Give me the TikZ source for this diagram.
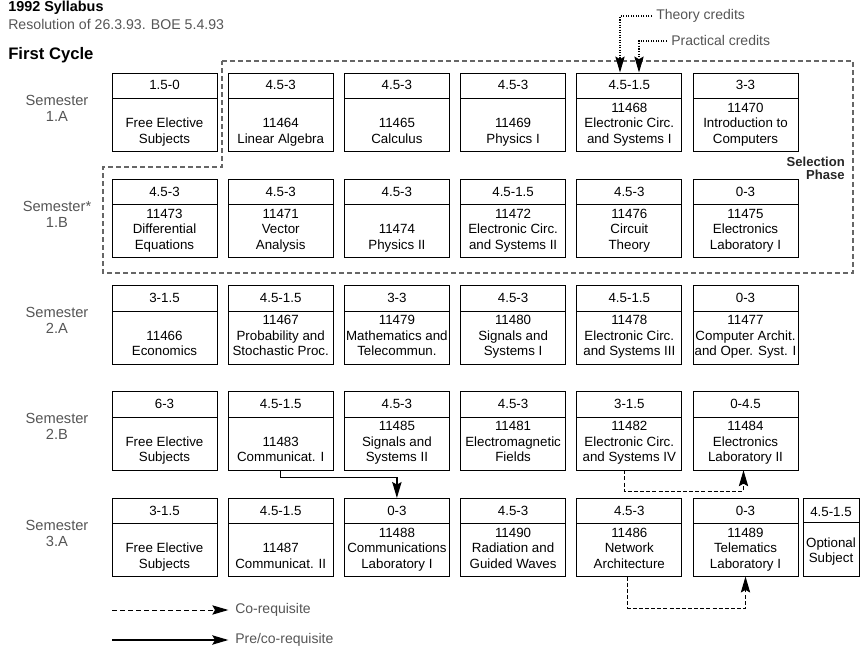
\documentclass[tikz,border=0pt]{standalone}
\usepackage{fontspec}
\setmainfont{Liberation Sans}
\usetikzlibrary{arrows.meta,calc}
\definecolor{txtgray}{HTML}{555555}
\definecolor{linegray}{HTML}{666666}
\tikzset{
  tip/.style={-{Stealth[length=12pt,width=7pt,inset=2pt]}},
  cbox/.style={draw, line width=0.7pt, minimum width=78.75pt, minimum height=58.9pt, inner sep=0pt, outer sep=0pt},
  ctext/.style={font=\fontsize{10}{11}\selectfont, inner sep=0pt},
  divider/.style={line width=0.7pt},
  semlabel/.style={font=\fontsize{11}{12}\selectfont, text=txtgray, align=center, inner sep=0pt},
  legtext/.style={font=\fontsize{10.5}{11}\selectfont, text=txtgray, inner sep=0pt, anchor=west},
  coreq/.style={tip, line width=0.75pt, dash pattern=on 3pt off 1.6pt},
  coreqleg/.style={tip, line width=0.75pt, dash pattern=on 4pt off 2pt},
  prereq/.style={tip, line width=1.1pt},
  credline/.style={tip, line width=0.8pt, dash pattern=on 0.8pt off 1.1pt},
  selline/.style={draw=linegray, line width=0.8pt, dash pattern=on 3.75pt off 2.25pt},
}
\newcommand{\coursebox}[7]{%
  \node[cbox, anchor=north west] (#1) at ({112+116.2*#2},{73+106.25*#3}) {};
  \draw[divider] ($(#1.north west)+(0,25.5)$) -- ($(#1.north east)+(0,25.5)$);
  \node[ctext, anchor=base] (#1h) at ($(#1.north)+(0,17)$) {#4};
  \node[ctext, anchor=base] (#1a) at ($(#1.south)+(0,-39.5)$) {#5};
  \node[ctext, anchor=base] (#1b) at ($(#1.south)+(0,-24)$) {#6};
  \node[ctext, anchor=base] (#1c) at ($(#1.south)+(0,-8.5)$) {#7};
}
\begin{document}
\begin{tikzpicture}[x=0.75pt, y=-0.75pt]
\useasboundingbox (0,0) rectangle (860,648);

% header
\node[anchor=west, font=\bfseries\fontsize{10.8}{12}\selectfont, inner sep=0pt] (title) at (8,8) {1992 Syllabus};
\node[anchor=west, font=\fontsize{10.6}{11}\selectfont, text=txtgray, inner sep=0pt] (resol) at (8,24) {Resolution of 26.3.93. BOE 5.4.93};
\node[anchor=west, font=\bfseries\fontsize{12.5}{13}\selectfont, inner sep=0pt] (cycle) at (8,55) {First Cycle};

% selection phase
\draw[selline] (222,61) -- (853,61) -- (853,273) -- (103,273) -- (103,167) -- (222,167) -- cycle;
\node[anchor=east, align=right, font=\bfseries\fontsize{9.8}{9.75}\selectfont, text=black!85, inner sep=0pt] (selphase) at (845,168.5) {Selection\\Phase};

% semester labels
\node[semlabel] (sem1a) at (57,108) {Semester\\1.A};
\node[semlabel] (sem1b) at (57,214) {Semester*\\1.B};
\node[semlabel] (sem2a) at (57,320.5) {Semester\\2.A};
\node[semlabel] (sem2b) at (57,426.75) {Semester\\2.B};
\node[semlabel] (sem3a) at (57,533) {Semester\\3.A};

% row 1.A
\coursebox{ca1}{0}{0}{1.5-0}{}{Free Elective}{Subjects}
\coursebox{c11464}{1}{0}{4.5-3}{}{11464}{Linear Algebra}
\coursebox{c11465}{2}{0}{4.5-3}{}{11465}{Calculus}
\coursebox{c11469}{3}{0}{4.5-3}{}{11469}{Physics I}
\coursebox{c11468}{4}{0}{4.5-1.5}{11468}{Electronic Circ.}{and Systems I}
\coursebox{c11470}{5}{0}{3-3}{11470}{Introduction to}{Computers}
% row 1.B
\coursebox{c11473}{0}{1}{4.5-3}{11473}{Differential}{Equations}
\coursebox{c11471}{1}{1}{4.5-3}{11471}{Vector}{Analysis}
\coursebox{c11474}{2}{1}{4.5-3}{}{11474}{Physics II}
\coursebox{c11472}{3}{1}{4.5-1.5}{11472}{Electronic Circ.}{and Systems II}
\coursebox{c11476}{4}{1}{4.5-3}{11476}{Circuit}{Theory}
\coursebox{c11475}{5}{1}{0-3}{11475}{Electronics}{Laboratory I}
% row 2.A
\coursebox{c11466}{0}{2}{3-1.5}{}{11466}{Economics}
\coursebox{c11467}{1}{2}{4.5-1.5}{11467}{Probability and}{Stochastic Proc.}
\coursebox{c11479}{2}{2}{3-3}{11479}{Mathematics and}{Telecommun.}
\coursebox{c11480}{3}{2}{4.5-3}{11480}{Signals and}{Systems I}
\coursebox{c11478}{4}{2}{4.5-1.5}{11478}{Electronic Circ.}{and Systems III}
\coursebox{c11477}{5}{2}{0-3}{11477}{Computer Archit.}{and Oper. Syst. I}
% row 2.B
\coursebox{cb1}{0}{3}{6-3}{}{Free Elective}{Subjects}
\coursebox{c11483}{1}{3}{4.5-1.5}{}{11483}{Communicat. I}
\coursebox{c11485}{2}{3}{4.5-3}{11485}{Signals and}{Systems II}
\coursebox{c11481}{3}{3}{4.5-3}{11481}{Electromagnetic}{Fields}
\coursebox{c11482}{4}{3}{3-1.5}{11482}{Electronic Circ.}{and Systems IV}
\coursebox{c11484}{5}{3}{0-4.5}{11484}{Electronics}{Laboratory II}
% row 3.A
\coursebox{cc1}{0}{4}{3-1.5}{}{Free Elective}{Subjects}
\coursebox{c11487}{1}{4}{4.5-1.5}{}{11487}{Communicat. II}
\coursebox{c11488}{2}{4}{0-3}{11488}{Communications}{Laboratory I}
\coursebox{c11490}{3}{4}{4.5-3}{11490}{Radiation and}{Guided Waves}
\coursebox{c11486}{4}{4}{4.5-3}{11486}{Network}{Architecture}
\coursebox{c11489}{5}{4}{0-3}{11489}{Telematics}{Laboratory I}
% optional subject
\node[cbox, minimum width=42pt, anchor=north west] (copt) at (803,498) {};
\draw[divider] ($(copt.north west)+(0,24.5)$) -- ($(copt.north east)+(0,24.5)$);
\node[ctext, anchor=base] (copth) at ($(copt.north)+(0,18.5)$) {4.5-1.5};
\node[ctext, anchor=base] (copta) at ($(copt.south)+(0,-29.5)$) {Optional};
\node[ctext, anchor=base] (coptb) at ($(copt.south)+(0,-14.5)$) {Subject};

% credit legend
\node[legtext] (theory) at (656,16) {Theory credits};
\node[legtext] (practical) at (671,41) {Practical credits};
\coordinate (thend) at (620,72.5);
\coordinate (prend) at (639,72.5);
\draw[credline] ([xshift=-3pt]theory.west) -| (thend);
\draw[credline] ([xshift=-3pt]practical.west) -| (prend);

% connectors
\draw[prereq] (c11483.south) -- ++(0,7) -| (c11488.north);
\draw[coreq] ([xshift=-3.75pt]c11482.south) -- ++(0,21) -| ([xshift=-1.5pt]c11484.south);
\draw[coreq] ([xshift=-1pt]c11486.south) -- ++(0,32) -| (c11489.south);

% bottom legend
\coordinate (lega) at (112,610);
\coordinate (legb) at (112,640);
\node[legtext] (colab) at (235,610) {Co-requisite};
\node[legtext] (prelab) at (235,640) {Pre/co-requisite};
\draw[coreqleg] (lega) -- ([xshift=-5pt]colab.west);
\draw[prereq] (legb) -- ([xshift=-5pt]prelab.west);
\end{tikzpicture}
\end{document}
